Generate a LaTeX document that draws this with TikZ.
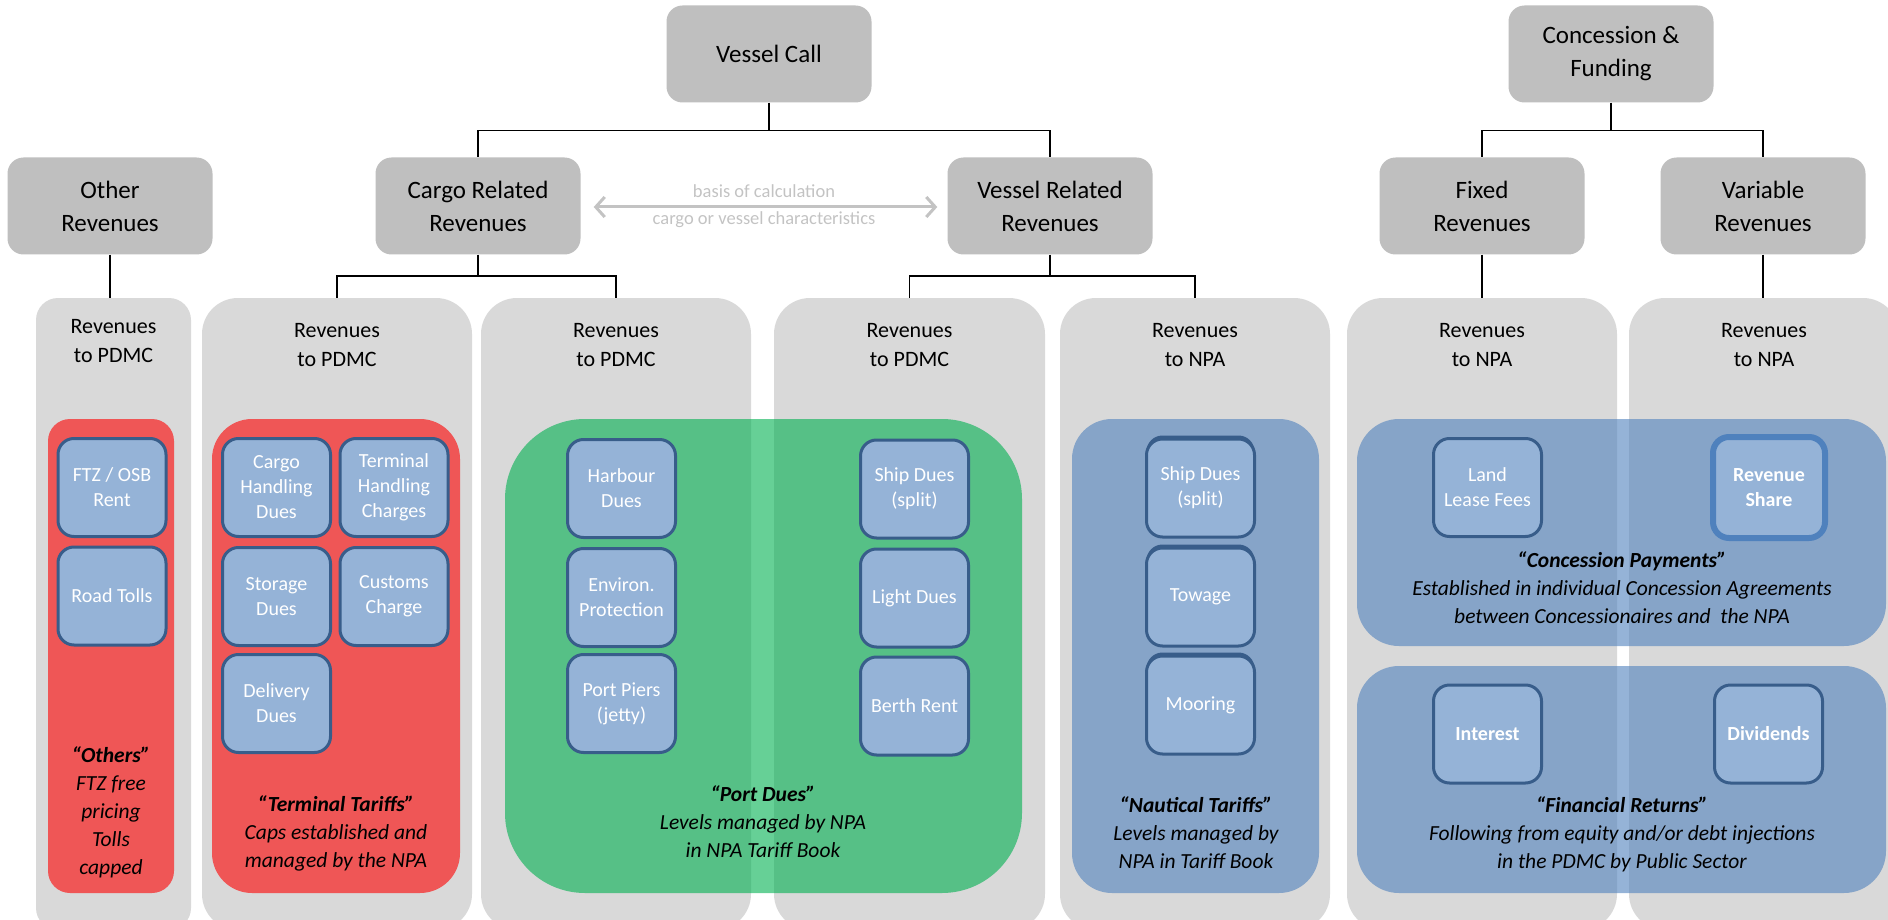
\documentclass[tikz,border=0pt]{standalone}
\usepackage{fontspec}
\setmainfont{Carlito}
\usetikzlibrary{arrows.meta,calc}
\definecolor{topgray}{HTML}{BFBFBF}
\definecolor{colgray}{HTML}{D9D9D9}
\definecolor{boxfill}{HTML}{95B3D7}
\definecolor{boxline}{HTML}{385D8A}
\definecolor{accentblue}{HTML}{4F81BD}
\definecolor{tariffgreen}{RGB}{0,176,80}
\definecolor{hintgray}{HTML}{C3C3C3}
\begin{document}
\begin{tikzpicture}[x=1pt,y=-1pt,
  topbox/.style={fill=topgray, rounded corners=16pt, minimum width=205pt, minimum height=97pt,
    inner sep=0pt, align=center, font=\fontsize{25}{33}\selectfont},
  colpanel/.style={fill=colgray, minimum height=632pt, inner sep=0pt},
  collabel/.style={align=center, font=\fontsize{22}{29.5}\selectfont},
  zone/.style={fill opacity=0.6, inner sep=0pt},
  item/.style={fill=boxfill, draw=boxline, line width=3pt, rounded corners=16pt,
    minimum width=108pt, minimum height=98pt, inner sep=0pt, align=center,
    text=white, font=\fontsize{20}{25}\selectfont},
  raised/.style={preaction={fill=boxline, rounded corners=16pt, transform canvas={yshift=3.5pt}}},
  note/.style={align=center, font=\fontsize{21.5}{28}\selectfont\itshape},
  conn/.style={draw=black, line width=1.6pt},
  basis/.style={draw=hintgray, line width=3pt, {Straight Barb[length=9pt,width=20pt]}-{Straight Barb[length=9pt,width=20pt]}},
]
\useasboundingbox (0,0) rectangle (1888,920);
\clip (0,0) rectangle (1888,920);

% ---- top level categories
\node[topbox] (vc)    at (769,54)   {Vessel Call};
\node[topbox] (cf)    at (1611,54)  {Concession \&\\Funding};
\node[topbox] (other) at (110,206)  {Other\\Revenues};
\node[topbox] (cargo) at (478,206)  {Cargo Related\\Revenues};
\node[topbox] (vessel) at (1050,206) {Vessel Related\\Revenues};
\node[topbox] (fixed) at (1482,206) {Fixed\\Revenues};
\node[topbox] (var)   at (1763,206) {Variable\\Revenues};

% ---- revenue columns
\node[colpanel, rounded corners=22pt, minimum width=155pt] (c1) at (113.5,614) {};
\node[colpanel, rounded corners=36pt, minimum width=270pt] (c2) at (337,614) {};
\node[colpanel, rounded corners=36pt, minimum width=270pt] (c3) at (616,614) {};
\node[colpanel, rounded corners=36pt, minimum width=271pt] (c4) at (909.5,614) {};
\node[colpanel, rounded corners=36pt, minimum width=270pt] (c5) at (1195,614) {};
\node[colpanel, rounded corners=36pt, minimum width=270pt] (c6) at (1482,614) {};
\node[colpanel, rounded corners=36pt, minimum width=270pt] (c7) at (1764,614) {};

\node[collabel] (l1) at (113.5,341) {Revenues\\to PDMC};
\node[collabel] (l2) at (337,345) {Revenues\\to PDMC};
\node[collabel] (l3) at (616,345) {Revenues\\to PDMC};
\node[collabel] (l4) at (909.5,345) {Revenues\\to PDMC};
\node[collabel] (l5) at (1195,345) {Revenues\\to NPA};
\node[collabel] (l6) at (1482,345) {Revenues\\to NPA};
\node[collabel] (l7) at (1764,345) {Revenues\\to NPA};

% ---- tariff regimes
\node[zone, fill=red, rounded corners=22pt, minimum width=126pt, minimum height=474pt] (z1) at (111,656) {};
\node[zone, fill=red, rounded corners=40pt, minimum width=248pt, minimum height=474pt] (z2) at (336,656) {};
\node[zone, fill=tariffgreen, rounded corners=80pt, minimum width=517pt, minimum height=474pt] (z3) at (763.5,656) {};
\node[zone, fill=accentblue, rounded corners=40pt, minimum width=247pt, minimum height=474pt] (z4) at (1195.5,656) {};
\node[zone, fill=accentblue, rounded corners=42pt, minimum width=529pt, minimum height=227pt] (z5) at (1621.5,532.5) {};
\node[zone, fill=accentblue, rounded corners=42pt, minimum width=529pt, minimum height=227pt] (z6) at (1621.5,779.5) {};

% ---- individual revenue items
\node[item] (ftz)  at (112,487.5) {FTZ / OSB\\Rent};
\node[item] (road) at (112,596) {Road Tolls};

\node[item] (chd) at (276.5,487.5) {Cargo\\Handling\\Dues};
\node[item] (thc) at (394,487.5) {Terminal\\Handling\\Charges};
\node[item] (sto) at (276.5,596.5) {Storage\\Dues};
\node[item] (cus) at (394,596.5) {Customs\\Charge};
\node[item] (del) at (276.5,703.5) {Delivery\\Dues};

\node[item] (hbr) at (621.5,488.5) {Harbour\\Dues};
\node[item] (env) at (621.5,597.5) {Environ.\\Protection};
\node[item] (pier) at (621.5,703.5) {Port Piers\\(jetty)};

\node[item] (sd1) at (914.5,489) {Ship Dues\\(split)};
\node[item] (lgt) at (914.5,598) {Light Dues};
\node[item] (brt) at (914.5,706) {Berth Rent};

\node[item, raised] (sd2) at (1200.5,488) {Ship Dues\\(split)};
\node[item, raised] (tow) at (1200.5,597) {Towage};
\node[item, raised] (moo) at (1200.5,705) {Mooring};

\node[item] (land) at (1487.5,487.5) {Land\\Lease Fees};
\node[item, draw=accentblue, line width=6pt, minimum width=112pt, minimum height=101pt,
      font=\fontsize{20}{25}\selectfont\bfseries] (rs) at (1769,487.5) {Revenue\\Share};
\node[item, font=\fontsize{20}{25}\selectfont\bfseries] (int) at (1487.5,734) {Interest};
\node[item, font=\fontsize{20}{25}\selectfont\bfseries] (div) at (1768.5,734) {Dividends};

% ---- regime descriptions
\node[note] (n1) at (111,812) {\textbf{“Others”}\\FTZ free\\pricing\\Tolls\\capped};
\node[note] (n2) at (336,833) {\textbf{“Terminal Tariffs”}\\Caps established and\\managed by the NPA};
\node[note] (n3) at (763,822) {\textbf{“Port Dues”}\\Levels managed by NPA\\in NPA Tariff Book};
\node[note] (n4) at (1196,833) {\textbf{“Nautical Tariffs”}\\Levels managed by\\NPA in Tariff Book};
\node[note] (n5) at (1622,588) {\textbf{“Concession Payments”}\\Established in individual Concession Agreements\\between Concessionaires and\ \ the NPA};
\node[note] (n6) at (1622,834) {\textbf{“Financial Returns”}\\Following from equity and/or debt injections\\in the PDMC by Public Sector};

% ---- hierarchy connectors
\draw[conn] (vc.south) -- ++(0,28) coordinate (vcj);
\draw[conn] (vcj) -| (cargo.north);
\draw[conn] (vcj) -| (vessel.north);
\draw[conn] (cf.south) -- ++(0,28) coordinate (cfj);
\draw[conn] (cfj) -| (fixed.north);
\draw[conn] (cfj) -| (var.north);
\draw[conn] (other.south) -- (other.south |- c1.north);
\draw[conn] (cargo.south) -- ++(0,21.5) coordinate (cgj);
\draw[conn] (cgj) -| (c2.north);
\draw[conn] (cgj) -| (c3.north);
\draw[conn] (vessel.south) -- ++(0,21.5) coordinate (vsj);
\draw[conn] (vsj) -| (c4.north);
\draw[conn] (vsj) -| (c5.north);
\draw[conn] (fixed.south) -- (fixed.south |- c6.north);
\draw[conn] (var.south) -- (var.south |- c7.north);

% ---- basis of calculation
\draw[basis] ([xshift=13pt,yshift=-1pt]cargo.east) -- ([xshift=-10pt,yshift=-1pt]vessel.west);
\node[align=center, text=hintgray, font=\fontsize{18.5}{26.5}\selectfont] (bc) at (764,206)
  {basis of calculation\\cargo or vessel characteristics};
\end{tikzpicture}
\end{document}
